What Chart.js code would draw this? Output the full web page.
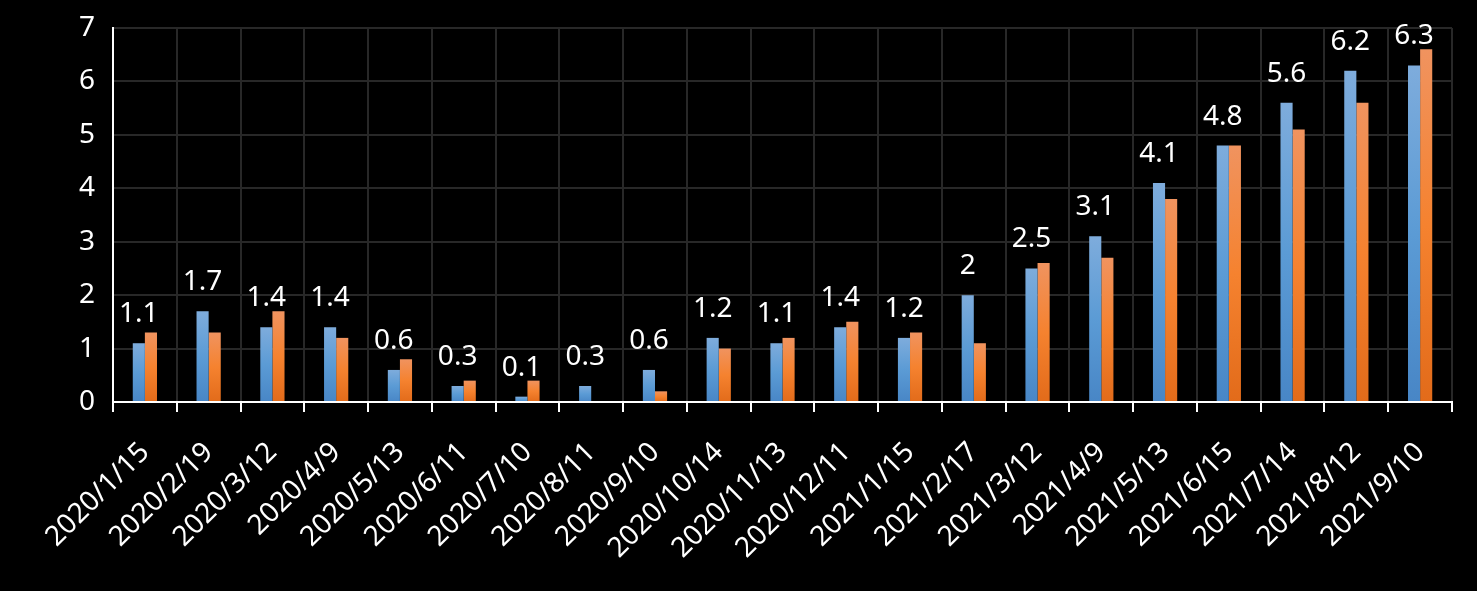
<!DOCTYPE html>
<html>
<head>
<meta charset="utf-8">
<script src="https://cdn.jsdelivr.net/npm/chart.js@4"></script>
<style>
  html, body { margin: 0; padding: 0; background: #000; }
  #wrap { width: 1477px; height: 591px; }
</style>
</head>
<body>
<div id="wrap"><canvas id="chart" width="1477" height="591"></canvas></div>
<script>
const labels = ["2020/1/15", "2020/2/19", "2020/3/12", "2020/4/9", "2020/5/13", "2020/6/11", "2020/7/10",
  "2020/8/11", "2020/9/10", "2020/10/14", "2020/11/13", "2020/12/11", "2021/1/15", "2021/2/17",
  "2021/3/12", "2021/4/9", "2021/5/13", "2021/6/15", "2021/7/14", "2021/8/12", "2021/9/10"];
const blueValues = [1.1, 1.7, 1.4, 1.4, 0.6, 0.3, 0.1, 0.3, 0.6, 1.2, 1.1, 1.4, 1.2, 2, 2.5, 3.1, 4.1, 4.8, 5.6, 6.2, 6.3];
const orangeValues = [1.3, 1.3, 1.7, 1.2, 0.8, 0.4, 0.4, 0, 0.2, 1.0, 1.2, 1.5, 1.3, 1.1, 2.6, 2.7, 3.8, 4.8, 5.1, 5.6, 6.6];
const yTicks = [0, 1, 2, 3, 4, 5, 6, 7];

const FONT = "'Noto Sans', 'Open Sans', sans-serif";

// per-bar vertical gradient, like the office chart fill
function barGradient(stops, fallback) {
  return (ctx) => {
    const chart = ctx.chart;
    if (!chart.chartArea || ctx.raw == null) return fallback;
    const y = chart.scales.y;
    const top = y.getPixelForValue(ctx.raw);
    const bottom = y.getPixelForValue(0);
    if (Math.abs(bottom - top) < 1) return fallback;
    const g = chart.ctx.createLinearGradient(0, top, 0, bottom);
    g.addColorStop(0, stops[0]);
    g.addColorStop(0.5, stops[1]);
    g.addColorStop(1, stops[2]);
    return g;
  };
}

// values above the blue bars
const valueLabels = {
  id: "valueLabels",
  afterDatasetsDraw(chart) {
    const ctx = chart.ctx;
    const meta = chart.getDatasetMeta(0);
    ctx.save();
    ctx.font = "28px " + FONT;
    ctx.fillStyle = "#ffffff";
    ctx.textAlign = "center";
    ctx.textBaseline = "alphabetic";
    meta.data.forEach((bar, i) => {
      ctx.fillText(String(blueValues[i]), bar.x, bar.y - 21);
    });
    ctx.restore();
  }
};

const chart = new Chart(document.getElementById("chart"), {
  type: "bar",
  data: {
    labels: labels,
    datasets: [
      {
        data: blueValues,
        backgroundColor: barGradient(["#7eacdc", "#5b9bd5", "#4886c6"], "#5b9bd5"),
        borderWidth: 0,
        categoryPercentage: 0.38,
        barPercentage: 1.0,
      },
      {
        data: orangeValues,
        backgroundColor: barGradient(["#f0935f", "#f5822f", "#e26b1a"], "#f5822f"),
        borderWidth: 0,
        categoryPercentage: 0.38,
        barPercentage: 1.0,
      },
    ],
  },
  options: {
    responsive: false,
    animation: false,
    devicePixelRatio: 1,
    layout: { padding: { top: 28, right: 25, left: 0, bottom: 0 } },
    plugins: {
      legend: { display: false },
      title: { display: false },
      tooltip: { enabled: false },
    },
    scales: {
      x: {
        grid: {
          color: "#282828",
          lineWidth: 2,
          tickColor: "#ffffff",
          tickLength: 10,
          offset: true,
        },
        border: { color: "#ffffff", width: 2 },
        ticks: {
          color: "#ffffff",
          font: { size: 28, family: FONT },
          minRotation: 45,
          maxRotation: 45,
          padding: 24,
          autoSkip: false,
        },
        afterFit(scale) { scale.height = 189; },
      },
      y: {
        min: 0,
        max: 7,
        afterBuildTicks(scale) { scale.ticks = yTicks.map((v) => ({ value: v })); },
        grid: { color: "#282828", lineWidth: 2, drawTicks: false },
        border: { color: "#ffffff", width: 2 },
        ticks: {
          color: "#ffffff",
          font: { size: 28, family: FONT },
          padding: 18,
        },
        afterFit(scale) {
          scale.width = 113;
          scale.paddingTop = 0;
          scale.paddingBottom = 0;
        },
      },
    },
  },
  plugins: [valueLabels],
});
</script>
</body>
</html>
